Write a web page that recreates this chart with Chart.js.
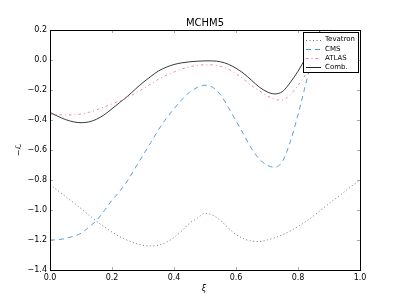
<!DOCTYPE html>
<html>
<head>
<meta charset="utf-8">
<script src="https://cdn.jsdelivr.net/npm/chart.js@4/dist/chart.umd.min.js"></script>
<style>
    html, body { margin: 0; padding: 0; background: #fff; }
    #wrap { width: 400px; height: 300px; }
</style>
</head>
<body>
<div id="wrap"><canvas id="chart" width="400" height="300"></canvas></div>
<script>
// xi grid shared by all curves
const xiValues = [
    0.000, 0.025, 0.050, 0.075, 0.100, 0.125, 0.150, 0.175, 0.200, 0.225,
    0.250, 0.275, 0.300, 0.325, 0.350, 0.375, 0.400, 0.425, 0.450, 0.475,
    0.500, 0.525, 0.550, 0.575, 0.600, 0.625, 0.650, 0.675, 0.700, 0.725,
    0.750, 0.775, 0.800, 0.825, 0.850, 0.875, 0.900, 0.925, 0.950, 0.975, 1.000
];

const tevatron = [
    -0.830, -0.870, -0.910, -0.950, -0.990, -1.033, -1.075, -1.112, -1.147, -1.177,
    -1.202, -1.222, -1.235, -1.240, -1.235, -1.215, -1.183, -1.140, -1.088, -1.055,
    -1.022, -1.035, -1.070, -1.120, -1.163, -1.192, -1.207, -1.210, -1.200, -1.185,
    -1.165, -1.140, -1.110, -1.077, -1.040, -0.998, -0.957, -0.918, -0.878, -0.838, -0.800
];

const cms = [
    -1.200, -1.198, -1.190, -1.175, -1.155, -1.115, -1.070, -1.005, -0.935, -0.875,
    -0.805, -0.720, -0.635, -0.550, -0.465, -0.390, -0.325, -0.265, -0.215, -0.183,
    -0.168, -0.182, -0.232, -0.315, -0.405, -0.497, -0.590, -0.660, -0.700, -0.716,
    -0.675, -0.545, -0.365, -0.160, 0.040, 0.230, 0.400, 0.550, 0.650, 0.720, 0.760
];

const atlas = [
    -0.360, -0.364, -0.366, -0.366, -0.360, -0.349, -0.332, -0.313, -0.293, -0.272,
    -0.250, -0.222, -0.192, -0.160, -0.128, -0.102, -0.080, -0.060, -0.046, -0.036,
    -0.032, -0.033, -0.042, -0.060, -0.092, -0.128, -0.170, -0.205, -0.238, -0.262,
    -0.268, -0.230, -0.170, -0.095, -0.010, 0.080, 0.170, 0.250, 0.320, 0.380, 0.430
];

const comb = [
    -0.350, -0.375, -0.397, -0.412, -0.418, -0.413, -0.395, -0.365, -0.325, -0.283,
    -0.242, -0.195, -0.150, -0.110, -0.073, -0.048, -0.030, -0.019, -0.012, -0.008,
    -0.006, -0.006, -0.012, -0.028, -0.055, -0.090, -0.135, -0.180, -0.212, -0.226,
    -0.210, -0.150, -0.075, 0.015, 0.110, 0.210, 0.310, 0.400, 0.480, 0.550, 0.600
];

const xTicks = [0.0, 0.2, 0.4, 0.6, 0.8, 1.0];
const yTicks = [0.2, 0.0, -0.2, -0.4, -0.6, -0.8, -1.0, -1.2, -1.4];

const seriesNames = ['Tevatron', 'CMS', 'ATLAS', 'Comb.'];

const FONT = '"DejaVu Sans", sans-serif';

function toPoints(ys) {
    return xiValues.map((x, i) => ({x: x, y: ys[i]}));
}

function fmt(v) {
    return v.toFixed(1).replace('-', '\u2212');
}

const styles = [
    {color: '#666666', dash: [1, 2.5], width: 0.9},
    {color: '#4a94d6', dash: [5, 4], width: 0.9},
    {color: '#f07a8a', dash: [2.5, 3, 1, 3], width: 0.9},
    {color: '#222222', dash: [], width: 0.9}
];

// frame, inward ticks, title, axis labels and the boxed legend
const decorPlugin = {
    id: 'decor',
    afterDraw(chart) {
        const ctx = chart.ctx;
        const a = chart.chartArea;
        const xs = chart.scales.x;
        const ys = chart.scales.y;
        ctx.save();

        // ticks on all four sides, pointing in
        ctx.strokeStyle = '#aaa';
        ctx.lineWidth = 1;
        ctx.beginPath();
        xTicks.forEach(v => {
            const px = Math.round(xs.getPixelForValue(v)) + 0.5;
            ctx.moveTo(px, a.bottom); ctx.lineTo(px, a.bottom - 3);
            ctx.moveTo(px, a.top); ctx.lineTo(px, a.top + 3);
        });
        yTicks.forEach(v => {
            const py = Math.round(ys.getPixelForValue(v)) + 0.5;
            ctx.moveTo(a.left, py); ctx.lineTo(a.left + 3, py);
            ctx.moveTo(a.right, py); ctx.lineTo(a.right - 3, py);
        });
        ctx.stroke();

        // frame
        ctx.strokeStyle = '#000';
        ctx.strokeRect(Math.round(a.left) + 0.5, Math.round(a.top) + 0.5,
            Math.round(a.right - a.left), Math.round(a.bottom - a.top));

        // title
        ctx.fillStyle = '#000';
        ctx.font = '10px ' + FONT;
        ctx.textAlign = 'center';
        ctx.textBaseline = 'alphabetic';
        ctx.fillText('MCHM5', (a.left + a.right) / 2, 26);

        // x label
        ctx.font = 'italic 8px ' + FONT;
        ctx.fillText('\u03be', (a.left + a.right) / 2 - 1, 291);

        // y label
        ctx.save();
        ctx.translate(21, (a.top + a.bottom) / 2);
        ctx.rotate(-Math.PI / 2);
        ctx.font = '8px ' + FONT;
        ctx.fillText('\u2212\u2112', 0, 0);
        ctx.restore();

        // legend
        const lx = 303, ly = 32, lw = 55, lh = 40;
        ctx.fillStyle = '#fff';
        ctx.fillRect(lx, ly, lw, lh);
        ctx.strokeStyle = '#000';
        ctx.lineWidth = 1;
        ctx.strokeRect(lx + 0.5, ly + 0.5, lw, lh);
        ctx.font = '7px ' + FONT;
        ctx.textAlign = 'left';
        ctx.textBaseline = 'middle';
        seriesNames.forEach((name, i) => {
            const yy = ly + 7.5 + i * 9.3;
            ctx.strokeStyle = styles[i].color;
            ctx.setLineDash(styles[i].dash);
            ctx.beginPath();
            ctx.moveTo(lx + 3, Math.round(yy) + 0.5);
            ctx.lineTo(lx + 18, Math.round(yy) + 0.5);
            ctx.stroke();
            ctx.setLineDash([]);
            ctx.fillStyle = '#000';
            ctx.fillText(name, lx + 22, yy);
        });

        ctx.restore();
    }
};

const seriesData = [tevatron, cms, atlas, comb];

new Chart(document.getElementById('chart').getContext('2d'), {
    type: 'line',
    data: {
        datasets: seriesData.map((ys, i) => ({
            label: seriesNames[i],
            data: toPoints(ys),
            borderColor: styles[i].color,
            borderDash: styles[i].dash,
            borderWidth: styles[i].width,
            pointRadius: 0,
            fill: false,
            cubicInterpolationMode: 'monotone'
        }))
    },
    options: {
        responsive: false,
        animation: false,
        devicePixelRatio: 1,
        layout: {padding: {top: 30, right: 40, left: 0, bottom: 0}},
        plugins: {
            legend: {display: false},
            title: {display: false},
            tooltip: {enabled: false}
        },
        scales: {
            x: {
                type: 'linear',
                min: 0,
                max: 1,
                afterFit: s => { s.height = 30; },
                afterBuildTicks: s => { s.ticks = xTicks.map(v => ({value: v})); },
                grid: {display: false, drawTicks: false},
                border: {display: false},
                ticks: {
                    color: '#000',
                    font: {family: FONT, size: 8},
                    padding: 3,
                    maxRotation: 0,
                    callback: v => fmt(v)
                }
            },
            y: {
                type: 'linear',
                min: -1.4,
                max: 0.2,
                afterFit: s => { s.width = 50; },
                afterBuildTicks: s => { s.ticks = yTicks.map(v => ({value: v})); },
                grid: {display: false, drawTicks: false},
                border: {display: false},
                ticks: {
                    color: '#000',
                    font: {family: FONT, size: 8},
                    padding: 3,
                    callback: v => fmt(v)
                }
            }
        }
    },
    plugins: [decorPlugin]
});
</script>
</body>
</html>
